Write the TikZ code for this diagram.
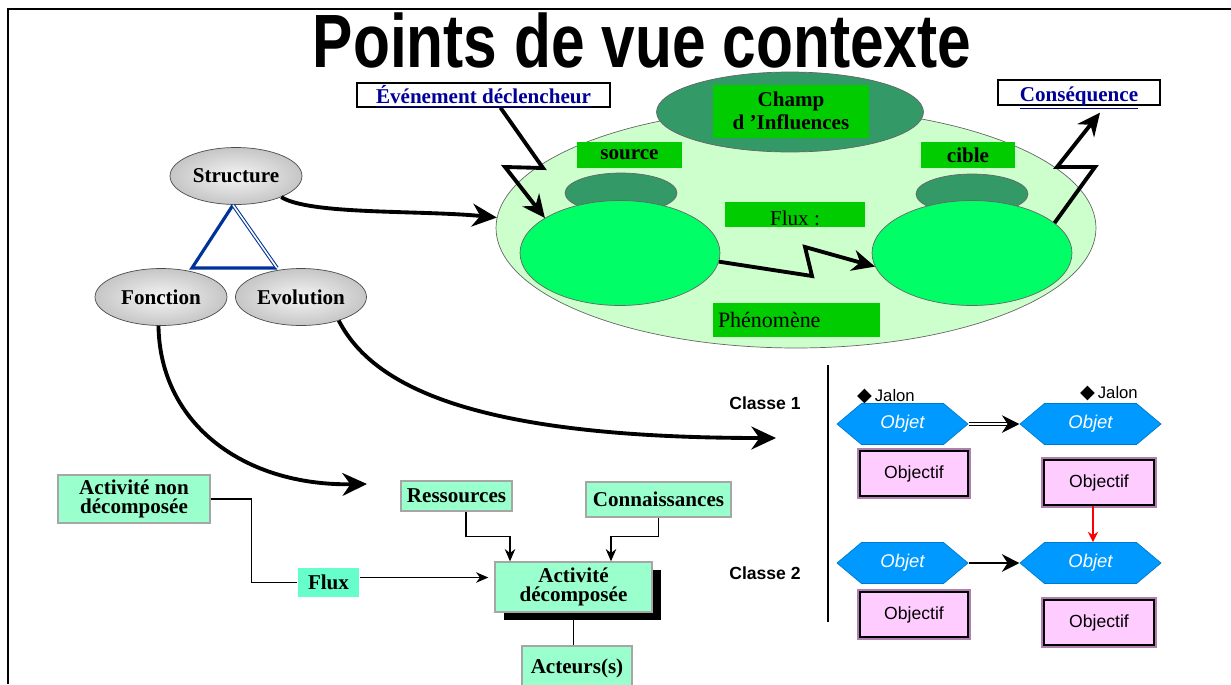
\documentclass[tikz,border=0pt]{standalone}
\usepackage{fontspec}
\setmainfont{Liberation Serif}
\setsansfont{Liberation Sans}
\newfontfamily\symbolfont{DejaVu Sans}
\usetikzlibrary{shapes.geometric,shapes.symbols,arrows.meta,shadows}

\definecolor{zonegreen}{HTML}{CCFFCC}
\definecolor{darkgreen}{HTML}{339966}
\definecolor{labelgreen}{HTML}{00CC00}
\definecolor{bodygreen}{HTML}{00FF66}
\definecolor{linkblue}{HTML}{000099}
\definecolor{triblue}{HTML}{003399}
\definecolor{objblue}{HTML}{0099FF}
\definecolor{goalpink}{HTML}{FFCCFF}
\definecolor{goalmauve}{HTML}{B07FB0}
\definecolor{actgreen}{HTML}{99FFCC}
\definecolor{fluxgreen}{HTML}{66FFCC}

\tikzset{
  seriflabel/.style={font=\fontsize{12}{13}\selectfont\bfseries},
  greenbox/.style={fill=labelgreen, inner sep=0pt, seriflabel},
  grayball/.style={ellipse, draw=black!70, inner color=gray!8, outer color=gray!45, inner sep=0pt, minimum width=2.64cm, minimum height=1.14cm, seriflabel},
  linkbox/.style={draw=black, line width=0.8pt, fill=white, inner sep=0pt, text=linkblue, seriflabel},
  bigarrow/.style={line width=2.2pt, -{Stealth[length=14pt, width=13pt]}},
  zigarrow/.style={line width=2.2pt, line join=miter, -{Stealth[length=13pt, width=12pt]}},
  classe/.style={font=\fontsize{10}{12}\selectfont\sffamily\bfseries},
  jalon/.style={font=\fontsize{9.5}{11}\selectfont\sffamily},
  objet/.style={signal, signal to=east and west, signal pointer angle=80, fill=objblue, draw=objblue!80!black, inner sep=0pt, minimum height=0.82cm, text=white, font=\fontsize{10.5}{12}\selectfont\sffamily\itshape},
  objectif/.style={fill=goalpink, draw=black, line width=1.1pt, preaction={draw=goalmauve, line width=3pt}, minimum width=2.16cm, minimum height=0.9cm, inner sep=0pt, font=\fontsize{10}{12}\selectfont\sffamily},
  activite/.style={fill=actgreen, draw=gray!70, line width=0.8pt, inner sep=0pt, align=center, seriflabel},
  smallarrow/.style={line width=0.6pt, -{Stealth[length=7pt, width=6pt]}}
}

\begin{document}
\begin{tikzpicture}[x=0.02cm, y=-0.02cm]
    \useasboundingbox (0,0) rectangle (1231,684);

    \draw [line width=1.1pt] (1231,9) -- (8,9) -- (8,684);

    \node (title) at (642,67) [anchor=base] {\scalebox{0.80}[1]{\fontsize{43}{43}\selectfont\sffamily\bfseries Points de vue contexte}};

    \node (zone) at (796,228) [ellipse, fill=zonegreen, draw=black!60, minimum width=12cm, minimum height=4.8cm] {};
    \node (champ) at (790,112) [ellipse, fill=darkgreen, draw=black!60, minimum width=5.34cm, minimum height=1.6cm] {};
    \node (champ-label) at (791,111) [greenbox, minimum width=3.12cm, minimum height=1.06cm, align=center] {Champ\\d ’Influences};

    \node (source-label) at (629.5,155) [greenbox, minimum width=2.1cm, minimum height=0.52cm] {source};
    \node (cible-label) at (968,155) [greenbox, minimum width=1.88cm, minimum height=0.52cm] {cible};

    \node (source-top) at (621,193) [ellipse, fill=darkgreen, draw=black!60, minimum width=2.24cm, minimum height=0.8cm] {};
    \node (cible-top) at (972,194) [ellipse, fill=darkgreen, draw=black!60, minimum width=2.24cm, minimum height=0.8cm] {};
    \node (source-body) at (620,253) [ellipse, fill=bodygreen, draw=black!60, minimum width=4cm, minimum height=2.1cm] {};
    \node (target-body) at (972,253) [ellipse, fill=bodygreen, draw=black!60, minimum width=4cm, minimum height=2.1cm] {};

    \node (flux-label) at (795,214.5) [greenbox, font=\fontsize{12}{13}\selectfont, minimum width=2.8cm, minimum height=0.5cm] {\raisebox{-6pt}[0pt][0pt]{Flux :}};
    \node (phenomene-label) at (796.5,320) [greenbox, font=\fontsize{12.5}{13}\selectfont, inner xsep=0.1cm, text width=3.14cm, align=left, minimum height=0.68cm] {Phénomène};

    \node (evenement) at (483.5,95) [linkbox, minimum width=5.06cm, minimum height=0.48cm] {\raisebox{-5pt}[0pt][0pt]{\underline{Événement déclencheur}}};
    \node (consequence) at (1079,92.5) [linkbox, minimum width=3.24cm, minimum height=0.5cm] {\raisebox{-5pt}[0pt][0pt]{\underline{Conséquence}}};

    \node (structure) at (236,176) [grayball] {Structure};
    \node (fonction) at (161,297) [grayball] {Fonction};
    \node (evolution) at (301,297) [grayball, minimum width=2.62cm] {Evolution};

    \draw [triblue, line width=1.8pt, line join=miter] (233,205) -- (192,268) -- (277,268);
    \draw [triblue, line width=0.6pt, double=white, double distance=0.9pt] (233,205) -- (277,268);

    \coordinate (fonction-end) at (367,484);
    \coordinate (evolution-end) at (776,438);

    \draw [bigarrow] (structure.-25) .. controls (310,215) and (420,210) .. (zone.178);
    \draw [bigarrow] (fonction.265) .. controls (160,425) and (245,486) .. (fonction-end);
    \draw [bigarrow] (evolution.-32) .. controls (372,385) and (470,438) .. (evolution-end);

    \draw [zigarrow] ([xshift=0.34cm]evenement.south) -- (543,168) -- (505,167) -- (source-body.155);
    \draw [zigarrow] (source-body.-5) -- (812,276) -- (805,247) -- (target-body.188);
    \draw [zigarrow] (target-body.20) -- (1095,167) -- (1057,167) -- ([xshift=0.42cm,yshift=-0.14cm]consequence.south);

    \draw [line width=0.8pt] (828,365) -- (828,622);

    \node (classe-1) at (765,403) [classe] {Classe 1};
    \node (classe-2) at (765,573) [classe] {Classe 2};

    \node (jalon-1) at (886,396) [jalon] {{\symbolfont\fontsize{11}{11}\selectfont ◆}\,Jalon};
    \node (jalon-2) at (1109,393) [jalon] {{\symbolfont\fontsize{11}{11}\selectfont ◆}\,Jalon};

    \node (objet-1a) at (902.5,424) [objet, minimum width=2.62cm] {Objet\hspace{0.62cm}};
    \node (objet-1b) at (1090.5,424) [objet, minimum width=2.82cm] {Objet\hspace{0.76cm}};
    \node (objet-2a) at (902.5,563) [objet, minimum width=2.62cm] {Objet\hspace{0.62cm}};
    \node (objet-2b) at (1090.5,563) [objet, minimum width=2.82cm] {Objet\hspace{0.76cm}};

    \node (objectif-1a) at (914,473.5) [objectif] {Objectif};
    \node (objectif-1b) at (1099,482.5) [objectif, minimum width=2.2cm] {Objectif};
    \node (objectif-2a) at (914,614.5) [objectif] {Objectif};
    \node (objectif-2b) at (1099,622.5) [objectif, minimum width=2.2cm] {Objectif};

    \draw [line width=0.5pt, double=white, double distance=1.2pt, -{Stealth[length=10pt, width=10pt]}] (objet-1a.east) -- (objet-1b.west);
    \draw [line width=1.2pt, -{Stealth[length=10pt, width=10pt]}] (objet-2a.east) -- (objet-2b.west);
    \draw [red, line width=0.7pt, -{Stealth[length=6pt, width=6pt, inset=2pt]}] ([xshift=-0.12cm]objectif-1b.south) -- ([xshift=-0.12cm]objectif-1b.south |- objet-2b.north);

    \node (activite-non) at (134,499) [activite, minimum width=3.04cm, minimum height=0.96cm] {Activité non\\[-2pt]décomposée};
    \node (ressources) at (456.5,496) [activite, minimum width=2.22cm, minimum height=0.6cm] {Ressources};
    \node (connaissances) at (658.5,499.5) [activite, minimum width=2.9cm, minimum height=0.7cm] {Connaissances};
    \node (flux-box) at (328.5,582.5) [activite, fill=fluxgreen, draw=none, minimum width=1.22cm, minimum height=0.58cm] {Flux};
    \node (activite-dec) at (573.5,587) [activite, minimum width=3.14cm, minimum height=1cm, drop shadow={shadow xshift=0.18cm, shadow yshift=-0.16cm, fill=black, opacity=1}] {Activité\\[-2pt]décomposée};
    \node (acteurs) at (577,668) [activite, minimum width=2.2cm, minimum height=0.88cm] {Acteurs(s)};

    \draw [line width=0.6pt] (activite-non.east) -- ++(41,0) |- (flux-box.west);
    \draw [smallarrow, shorten >=0.12cm] ([yshift=0.1cm]flux-box.east) -- ([yshift=0.1cm]flux-box.east -| activite-dec.west);
    \draw [smallarrow] ([xshift=0.19cm]ressources.south) -- ++(0,25) -| ([xshift=-1.27cm]activite-dec.north);
    \draw [smallarrow] (connaissances.south) -- ++(0,19) -| ([xshift=0.75cm]activite-dec.north);
    \draw [line width=0.6pt] (activite-dec.south) -- (activite-dec.south |- acteurs.north);
  \end{tikzpicture}
\end{document}
